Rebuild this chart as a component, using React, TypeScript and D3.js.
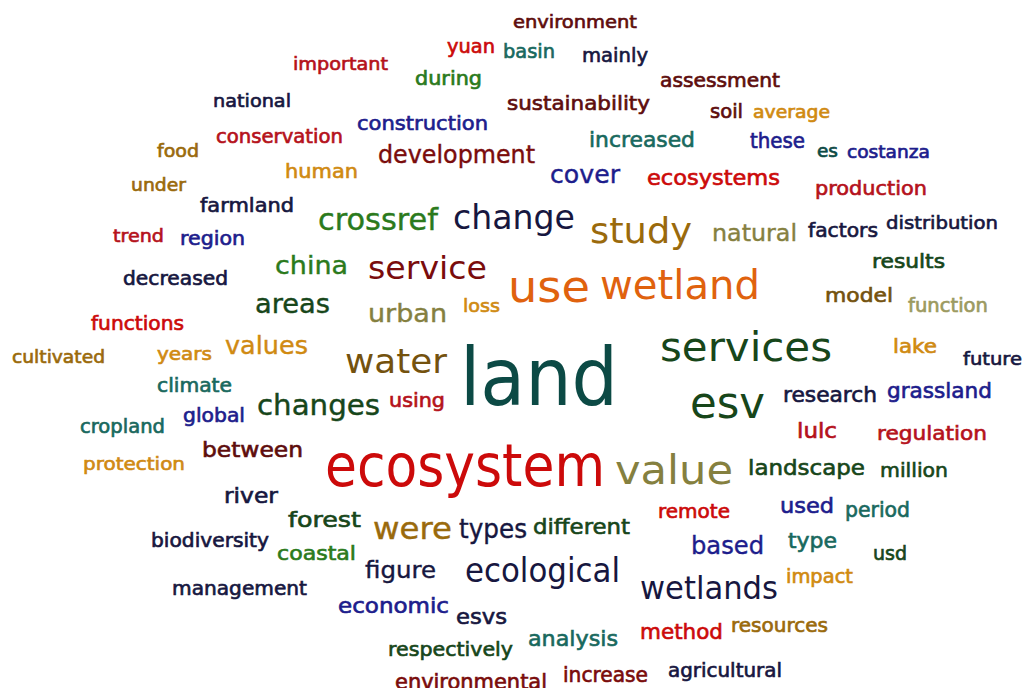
import React from "react";
import * as d3 from "d3";

// palette of the cloud
const palette: Record<string, string> = {
  maroon: "#5e0d0d",
  darkred: "#7a0c0c",
  red: "#cc0a0a",
  crimson: "#b5121b",
  orange: "#e0620e",
  amber: "#d08a12",
  gold: "#9a6a0c",
  brown: "#74520e",
  olive: "#85803f",
  lolive: "#9c9a60",
  dgreen: "#17461a",
  green: "#2b7a1c",
  teal: "#19695e",
  dteal: "#0c4a45",
  navy: "#17173f",
  blue: "#1d1d8c",
};

// word, weight (px), colour key, left, right, baseline (layout units of the cloud)
type W = [string, number, string, number, number, number];

const topWords: W[] = [
  ["environment", 18, "maroon", 513, 637, 28],
  ["yuan", 19, "red", 447, 495, 53],
  ["basin", 19, "teal", 503, 555, 58],
  ["mainly", 19, "navy", 582, 648, 62],
  ["important", 18, "crimson", 293, 388, 70],
  ["during", 19, "green", 415, 482, 85],
  ["assessment", 19, "maroon", 660, 780, 87],
  ["national", 18, "navy", 213, 291, 107],
  ["sustainability", 20, "maroon", 507, 650, 110],
  ["soil", 19, "maroon", 710, 743, 118],
  ["average", 17, "amber", 753, 830, 118],
  ["construction", 20, "blue", 357, 488, 130],
  ["conservation", 19, "crimson", 216, 343, 143],
  ["increased", 22, "teal", 589, 695, 147],
  ["these", 21, "blue", 750, 805, 148],
  ["es", 17, "dteal", 817, 838, 157],
  ["costanza", 17, "blue", 847, 930, 158],
  ["food", 18, "gold", 157, 199, 157],
  ["development", 24, "darkred", 378, 535, 163],
  ["human", 20, "amber", 285, 358, 178],
  ["cover", 24, "blue", 550, 620, 183],
  ["ecosystems", 21, "red", 647, 780, 185],
  ["under", 18, "gold", 131, 186, 191],
  ["production", 20, "crimson", 815, 927, 195],
  ["farmland", 19, "navy", 200, 294, 212],
];

const middleWords: W[] = [
  ["crossref", 30, "green", 318, 438, 230],
  ["change", 34, "navy", 453, 575, 229],
  ["study", 36, "gold", 590, 692, 243],
  ["natural", 23, "olive", 712, 797, 241],
  ["factors", 19, "navy", 808, 878, 237],
  ["distribution", 18, "navy", 886, 998, 229],
  ["trend", 18, "crimson", 113, 164, 242],
  ["region", 19, "blue", 180, 245, 245],
  ["results", 19, "dgreen", 872, 945, 268],
  ["china", 25, "green", 275, 348, 274],
  ["service", 32, "darkred", 368, 487, 279],
  ["decreased", 19, "navy", 123, 228, 285],
  ["use", 44, "orange", 508, 590, 302],
  ["wetland", 40, "orange", 600, 760, 299],
  ["model", 20, "brown", 825, 893, 302],
  ["areas", 26, "dgreen", 255, 330, 313],
  ["loss", 18, "amber", 463, 500, 312],
  ["urban", 25, "olive", 368, 447, 322],
  ["function", 19, "lolive", 908, 988, 312],
  ["functions", 19, "red", 91, 184, 330],
  ["lake", 19, "amber", 893, 937, 353],
  ["values", 25, "amber", 225, 308, 354],
  ["services", 40, "dgreen", 660, 832, 361],
  ["future", 18, "navy", 963, 1022, 365],
  ["years", 18, "amber", 157, 212, 360],
  ["cultivated", 18, "gold", 12, 105, 363],
  ["water", 34, "brown", 345, 447, 373],
  ["land", 80, "dteal", 460, 618, 405],
  ["climate", 19, "teal", 157, 232, 392],
  ["grassland", 21, "blue", 887, 992, 398],
  ["research", 21, "navy", 783, 877, 402],
  ["using", 19, "crimson", 389, 445, 407],
  ["changes", 28, "dgreen", 257, 380, 415],
  ["esv", 44, "dgreen", 690, 765, 418],
  ["global", 19, "blue", 183, 245, 422],
  ["cropland", 19, "teal", 80, 165, 433],
  ["lulc", 21, "crimson", 797, 837, 438],
  ["regulation", 20, "crimson", 877, 987, 440],
];

const bottomWords: W[] = [
  ["between", 22, "maroon", 202, 303, 457],
  ["protection", 18, "amber", 83, 185, 470],
  ["ecosystem", 58, "red", 325, 605, 486],
  ["value", 40, "olive", 615, 733, 484],
  ["landscape", 22, "dgreen", 748, 865, 475],
  ["million", 20, "dgreen", 880, 948, 477],
  ["river", 21, "navy", 224, 278, 503],
  ["used", 22, "blue", 780, 834, 513],
  ["period", 21, "teal", 845, 910, 517],
  ["remote", 19, "red", 658, 730, 518],
  ["forest", 22, "dgreen", 288, 361, 527],
  ["different", 22, "dgreen", 533, 630, 534],
  ["were", 30, "gold", 373, 452, 539],
  ["types", 26, "navy", 459, 527, 538],
  ["biodiversity", 19, "navy", 151, 269, 547],
  ["type", 22, "teal", 788, 837, 548],
  ["based", 24, "blue", 691, 764, 554],
  ["coastal", 20, "green", 277, 356, 560],
  ["usd", 19, "dgreen", 873, 907, 560],
  ["figure", 23, "navy", 365, 436, 578],
  ["ecological", 34, "navy", 465, 620, 582],
  ["impact", 19, "amber", 786, 853, 583],
  ["management", 19, "navy", 172, 307, 595],
  ["wetlands", 32, "navy", 640, 778, 599],
  ["economic", 21, "blue", 338, 449, 613],
  ["esvs", 22, "navy", 456, 507, 624],
  ["resources", 19, "gold", 731, 828, 632],
  ["method", 22, "red", 640, 723, 639],
  ["analysis", 22, "teal", 528, 618, 646],
  ["respectively", 20, "dgreen", 388, 513, 656],
  ["agricultural", 19, "navy", 668, 782, 677],
  ["increase", 21, "darkred", 563, 648, 682],
  ["environmental", 21, "darkred", 395, 547, 689],
];

const WIDTH = 1023;
const HEIGHT = 688;

export default function App() {
  const all = [...topWords, ...middleWords, ...bottomWords];
  const x = d3.scaleLinear().domain([0, 1023]).range([0, WIDTH]);
  const y = d3.scaleLinear().domain([0, 688]).range([0, HEIGHT]);
  const stroke = d3.scaleThreshold<number, number>().domain([23, 31]).range([0.65, 0.4, 0]);
  return (
    <svg
      width={WIDTH}
      height={HEIGHT}
      style={{ position: "absolute", left: 0, top: 0, background: "#ffffff" }}
      fontFamily="'DejaVu Sans', Verdana, sans-serif"
    >
      <rect width={WIDTH} height={HEIGHT} fill="#ffffff" />
      {all.map(([w, s, c, l, r, b], i) => (
        <text
          key={i}
          x={x(l)}
          y={y(b)}
          fontSize={s}
          fill={palette[c]}
          stroke={palette[c]}
          strokeWidth={stroke(s)}
          textLength={x(r) - x(l)}
          lengthAdjust="spacingAndGlyphs"
        >
          {w}
        </text>
      ))}
    </svg>
  );
}
